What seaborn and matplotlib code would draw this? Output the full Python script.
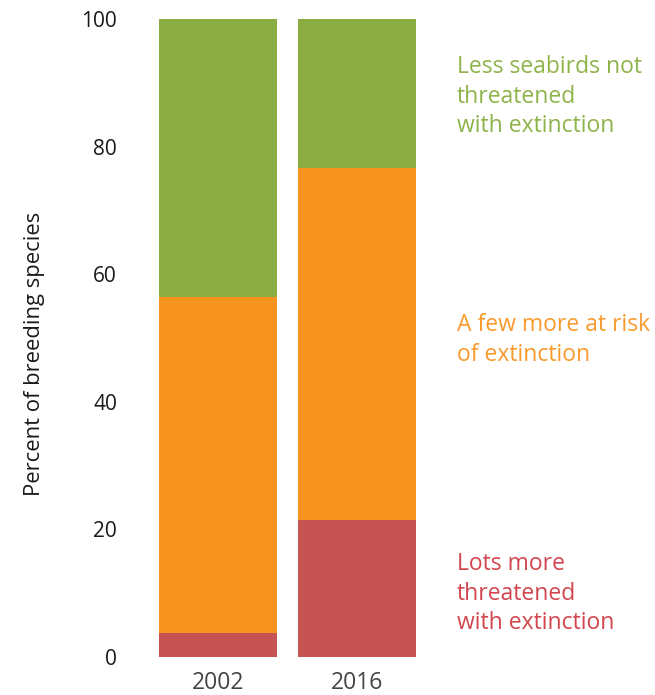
import matplotlib
matplotlib.use("Agg")
import matplotlib.pyplot as plt
import seaborn as sns
import pandas as pd

years = ["2002", "2016"]
lots_more_threatened = [3.8, 21.4]
few_more_at_risk = [52.6, 55.3]
less_not_threatened = [43.6, 23.3]
y_ticks = [0, 20, 40, 60, 80, 100]

sns.set_style("white")
plt.rcParams['font.family'] = ['Open Sans', 'DejaVu Sans']

c_red = "#C45352"
c_orange = "#F7941F"
c_green = "#8BAC41"

df = pd.DataFrame({"year": years,
                   "red": lots_more_threatened,
                   "orange": few_more_at_risk,
                   "green": less_not_threatened})
df["orange_top"] = df["red"] + df["orange"]
df["green_top"] = df["orange_top"] + df["green"]

fig = plt.figure(figsize=(6.55, 6.95), dpi=100)
ax = fig.add_axes([140/655, 38/695, 295/655, 638/695])

for col, c in [("green_top", c_green), ("orange_top", c_orange), ("red", c_red)]:
    sns.barplot(data=df, x="year", y=col, color=c, width=0.85, ax=ax,
                saturation=1, linewidth=0, edgecolor="none")

ax.set_xlim(-0.56, 1.56)
ax.set_ylim(0, 100)
ax.set_yticks(y_ticks)
ax.set_yticklabels([str(t) for t in y_ticks], fontsize=15, color="#1a1a1a")
ax.tick_params(axis="x", labelsize=16.5, colors="#444444", length=0, pad=10)
ax.tick_params(axis="y", length=0, pad=16.5)
ax.set_xlabel("")
ax.set_ylabel("Percent of breeding species", fontsize=15.8, color="#1a1a1a")
ax.yaxis.set_label_coords((45 - 140) / 295, (657 - 354) / 638)
sns.despine(ax=ax, left=True, bottom=True)

fs = 16.5
ls = 1.31
fig.text(457/655, 1 - 55/695, "Less seabirds not\nthreatened\nwith extinction",
         color="#8DB34A", fontsize=fs, va="top", ha="left", linespacing=ls)
fig.text(457/655, 1 - 313/695, "A few more at risk\nof extinction",
         color="#F89A2C", fontsize=fs, va="top", ha="left", linespacing=ls)
fig.text(457/655, 1 - 552/695, "Lots more\nthreatened\nwith extinction",
         color="#D2464F", fontsize=fs, va="top", ha="left", linespacing=ls)

fig.savefig("out.png", dpi=100)
